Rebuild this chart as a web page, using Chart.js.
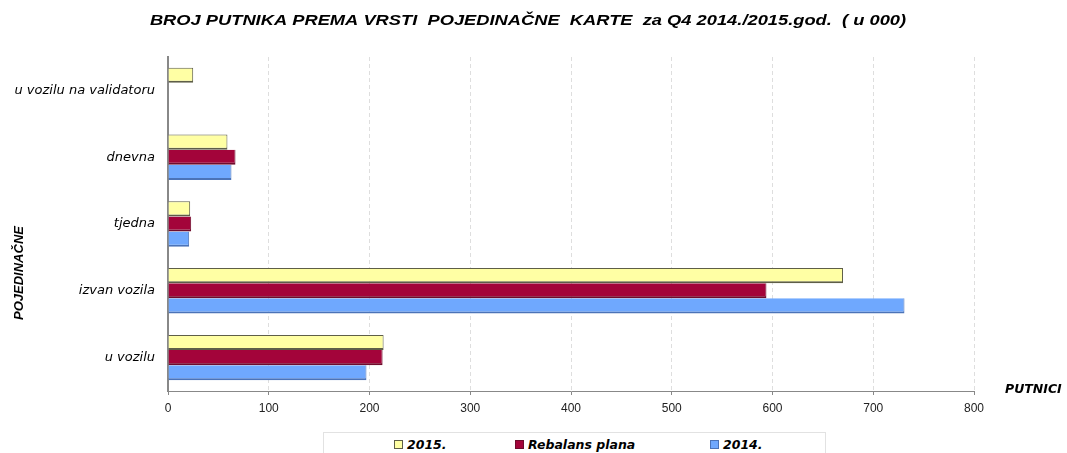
<!DOCTYPE html>
<html>
<head>
<meta charset="utf-8">
<script src="https://cdn.jsdelivr.net/npm/chart.js@4/dist/chart.umd.min.js"></script>
<style>
  html, body { margin: 0; padding: 0; background: #fff; }
  #wrap { position: relative; width: 1067px; height: 453px; overflow: hidden; }
  #chart { position: absolute; left: 0; top: 0; }
  #legend {
    position: absolute; left: 323px; top: 432px; width: 503px; height: 30px;
    border: 1px solid #e2e2e2; box-sizing: border-box;
    font: oblique bold 12.5px "DejaVu Sans", sans-serif; color: #000;
  }
  .item { position: absolute; top: 4px; white-space: nowrap; }
  .box { display: inline-block; width: 9px; height: 9px; margin-right: 4px; vertical-align: 0px; box-sizing: border-box; }
</style>
</head>
<body>
<div id="wrap">
  <canvas id="chart" width="1067" height="432"></canvas>
  <div id="legend"></div>
</div>
<script>
// categories, top to bottom
const categories = ["u vozilu na validatoru", "dnevna", "tjedna", "izvan vozila", "u vozilu"];

// values in thousands of passengers
const values2015 = [25, 59, 22, 670, 214];
const valuesRebalans = [null, 67, 23, 594, 213];
const values2014 = [null, 63, 21, 731, 197];

const seriesNames = ["2015.", "Rebalans plana", "2014."];
const xTicks = [0, 100, 200, 300, 400, 500, 600, 700, 800];

const titleText = "BROJ PUTNIKA PREMA VRSTI  POJEDINAČNE  KARTE  za Q4 2014./2015.god.  ( u 000)";

const fills = ["#ffffa4", "#a3043a", "#6fa8fe"];
const edges = ["#5e5e48", "#6e0c2c", "#4b73b8"];
const legendX = [70, 191, 386];

// legend built as plain html below the canvas
const legend = document.getElementById("legend");
seriesNames.forEach((name, i) => {
  const el = document.createElement("div");
  el.className = "item";
  el.style.left = legendX[i] + "px";
  el.innerHTML = '<span class="box" style="background:' + fills[i] + ';border:1px solid ' + edges[i] + '"></span>' + name;
  legend.appendChild(el);
});

// title and axis titles drawn by hand so they sit like in the original
const titles = {
  id: "titles",
  afterDraw(chart) {
    const ctx = chart.ctx;
    ctx.save();
    ctx.fillStyle = "#000";
    ctx.textBaseline = "middle";

    // the original title is a stretched arial
    ctx.save();
    ctx.font = "italic bold 15px 'Liberation Sans', Arial, sans-serif";
    ctx.textAlign = "center";
    ctx.translate(528, 21);
    ctx.scale(1.22, 1);
    ctx.fillText(titleText, 0, 0);
    ctx.restore();

    ctx.font = "oblique bold 12.5px 'DejaVu Sans', sans-serif";
    ctx.textAlign = "left";
    ctx.fillText("PUTNICI", 1005, 390);

    ctx.font = "italic bold 13px 'Liberation Sans', Arial, sans-serif";
    ctx.translate(19, 273);
    ctx.rotate(-Math.PI / 2);
    ctx.textAlign = "center";
    ctx.fillText("POJEDINAČNE", 0, 0);
    ctx.restore();
  }
};

const datasets = [values2015, valuesRebalans, values2014].map((vals, i) => ({
  label: seriesNames[i],
  data: vals,
  backgroundColor: fills[i],
  borderColor: edges[i],
  borderWidth: i === 0 ? { top: 1, left: 0, right: 1, bottom: 2 } : { top: 0, left: 0, right: 1, bottom: 2 },
  borderSkipped: false,
  categoryPercentage: 0.68,
  barPercentage: 1.0,
}));

const ctx = document.getElementById("chart").getContext("2d");
new Chart(ctx, {
  type: "bar",
  data: { labels: categories, datasets: datasets },
  options: {
    indexAxis: "y",
    responsive: false,
    animation: false,
    layout: { padding: { left: 0, right: 93, top: 57, bottom: 0 } },
    scales: {
      x: {
        min: 0,
        max: 800,
        afterBuildTicks: (scale) => {
          scale.ticks = xTicks.map((v) => ({ value: v }));
        },
        afterFit: (scale) => {
          scale.height = 41;
        },
        grid: {
          color: "#dedede",
          tickColor: "#888",
          tickLength: 4,
        },
        border: { color: "#888", dash: [4, 3], display: true },
        ticks: {
          color: "#222",
          padding: 6,
          font: { family: "'Liberation Sans Narrow', 'Liberation Sans', Arial", size: 12 },
        },
      },
      y: {
        afterFit: (scale) => {
          scale.width = 168;
        },
        grid: { display: false, drawTicks: false },
        border: { color: "#888", width: 2 },
        ticks: {
          color: "#000",
          padding: 13,
          font: { family: "'DejaVu Sans', sans-serif", size: 13, style: "oblique" },
        },
      },
    },
    plugins: {
      legend: { display: false },
      tooltip: { enabled: false },
      title: { display: false },
    },
  },
  plugins: [titles],
});
</script>
</body>
</html>
